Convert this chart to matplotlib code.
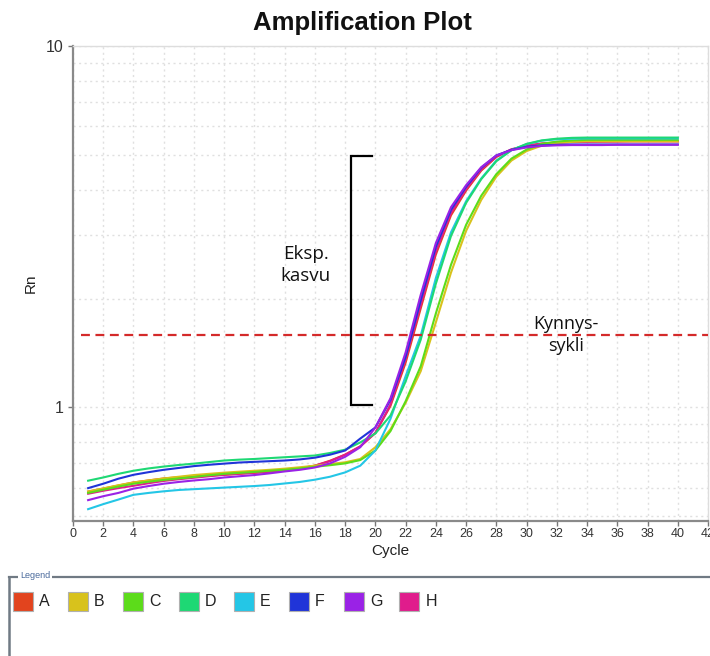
import matplotlib
matplotlib.use("Agg")
import matplotlib.pyplot as plt
from matplotlib.patches import Rectangle
from matplotlib.lines import Line2D
from matplotlib.ticker import FixedLocator, NullFormatter

plt.rcParams['font.family'] = ['Liberation Sans', 'DejaVu Sans']

cycles = list(range(1, 41))

series_names = ["A", "B", "C", "D", "E", "F", "G", "H"]
series_colors = ["#e2441e", "#d8c21c", "#5cdc1a", "#1ed874", "#24c6e6", "#2034d8", "#9a22e6", "#e01c8c"]

rn_A = [0.585, 0.596, 0.608, 0.620, 0.628, 0.636, 0.641, 0.645, 0.648, 0.651,
        0.655, 0.659, 0.664, 0.668, 0.677, 0.690, 0.712, 0.740, 0.780, 0.850,
        1.01, 1.33, 1.88, 2.65, 3.40, 3.98, 4.52, 4.93, 5.17, 5.30,
        5.37, 5.41, 5.43, 5.44, 5.44, 5.45, 5.45, 5.45, 5.45, 5.45]
rn_B = [0.585, 0.597, 0.609, 0.620, 0.628, 0.636, 0.643, 0.650, 0.655, 0.660,
        0.664, 0.668, 0.672, 0.677, 0.683, 0.690, 0.697, 0.705, 0.720, 0.776,
        0.870, 1.03, 1.26, 1.72, 2.36, 3.08, 3.75, 4.35, 4.82, 5.12,
        5.30, 5.39, 5.43, 5.45, 5.45, 5.45, 5.45, 5.45, 5.45, 5.45]
rn_C = [0.580, 0.592, 0.604, 0.615, 0.623, 0.630, 0.636, 0.642, 0.649, 0.655,
        0.659, 0.663, 0.668, 0.672, 0.678, 0.685, 0.692, 0.700, 0.715, 0.760,
        0.860, 1.04, 1.30, 1.82, 2.48, 3.20, 3.85, 4.42, 4.88, 5.17,
        5.36, 5.44, 5.48, 5.50, 5.50, 5.50, 5.50, 5.50, 5.50, 5.50]
rn_D = [0.627, 0.640, 0.655, 0.668, 0.678, 0.686, 0.693, 0.699, 0.706, 0.713,
        0.717, 0.720, 0.724, 0.728, 0.732, 0.736, 0.748, 0.764, 0.800, 0.847,
        0.950, 1.18, 1.54, 2.20, 2.98, 3.68, 4.28, 4.80, 5.15, 5.36,
        5.48, 5.54, 5.57, 5.58, 5.58, 5.58, 5.58, 5.58, 5.58, 5.58]
rn_E = [0.523, 0.540, 0.556, 0.573, 0.580, 0.586, 0.591, 0.594, 0.597, 0.600,
        0.603, 0.606, 0.610, 0.616, 0.622, 0.631, 0.643, 0.661, 0.690, 0.760,
        0.930, 1.22, 1.58, 2.28, 3.05, 3.72, 4.30, 4.82, 5.15, 5.35,
        5.47, 5.52, 5.54, 5.55, 5.55, 5.55, 5.55, 5.55, 5.55, 5.55]
rn_F = [0.598, 0.615, 0.635, 0.651, 0.662, 0.672, 0.680, 0.688, 0.694, 0.699,
        0.704, 0.707, 0.710, 0.713, 0.718, 0.726, 0.740, 0.760, 0.820, 0.880,
        1.05, 1.38, 1.98, 2.78, 3.52, 4.08, 4.60, 4.98, 5.16, 5.26,
        5.31, 5.33, 5.34, 5.34, 5.34, 5.34, 5.34, 5.34, 5.34, 5.34]
rn_G = [0.554, 0.568, 0.580, 0.596, 0.606, 0.615, 0.622, 0.628, 0.633, 0.640,
        0.645, 0.650, 0.657, 0.665, 0.672, 0.682, 0.700, 0.730, 0.776, 0.880,
        1.06, 1.42, 2.05, 2.85, 3.58, 4.12, 4.62, 4.98, 5.15, 5.24,
        5.29, 5.31, 5.32, 5.32, 5.32, 5.33, 5.33, 5.33, 5.33, 5.33]
rn_H = [0.577, 0.588, 0.598, 0.607, 0.617, 0.626, 0.633, 0.639, 0.645, 0.651,
        0.656, 0.660, 0.664, 0.668, 0.678, 0.690, 0.710, 0.740, 0.780, 0.850,
        1.02, 1.36, 1.92, 2.70, 3.45, 4.02, 4.55, 4.95, 5.18, 5.30,
        5.37, 5.40, 5.42, 5.43, 5.44, 5.44, 5.45, 5.45, 5.45, 5.45]

threshold = 1.585
x_ticks = list(range(0, 43, 2))
y_ticks = [1, 10]
y_tick_labels = ["1", "10"]

title_text = "Amplification Plot"
x_label = "Cycle"
y_label = "Rn"
bracket_text = "Eksp.\nkasvu"
threshold_text = "Kynnys-\nsykli"

W, H = 710, 656
fig = plt.figure(figsize=(W / 100, H / 100), dpi=100)
ax = fig.add_axes([73 / W, 1 - 521 / H, (708 - 73) / W, (521 - 46) / H])

ax.set_yscale("log")
ax.set_xlim(0, 42)
ax.set_ylim(0.485, 10)

# grid
ax.xaxis.set_major_locator(FixedLocator(x_ticks))
ax.yaxis.set_major_locator(FixedLocator(y_ticks))
ax.yaxis.set_minor_locator(FixedLocator([0.5, 0.6, 0.7, 0.8, 0.9, 2, 3, 4, 5, 6, 7, 8, 9]))
ax.yaxis.set_minor_formatter(NullFormatter())
ax.set_yticklabels(y_tick_labels)
ax.grid(True, which="both", color="#e0e0e0", linestyle=(0, (1.5, 2.5)), linewidth=1.0)
ax.tick_params(axis="y", which="minor", length=0)
ax.tick_params(axis="both", which="major", length=3.5, width=1, color="#777777",
               labelcolor="#333333", labelsize=9)
ax.tick_params(axis="x", pad=1.5)
ax.tick_params(axis="y", labelsize=11.5, pad=3)
ax.set_axisbelow(True)

for side in ["left", "bottom"]:
    ax.spines[side].set_color("#8a8a8a")
    ax.spines[side].set_linewidth(1.6)
for side in ["top", "right"]:
    ax.spines[side].set_color("#dddddd")
    ax.spines[side].set_linewidth(1.0)

all_series = [rn_A, rn_B, rn_C, rn_D, rn_E, rn_F, rn_G, rn_H]
draw_order = [0, 7, 1, 2, 4, 3, 5, 6]
for i in draw_order:
    ax.plot(cycles, all_series[i], color=series_colors[i], linewidth=1.5, zorder=3)

# threshold line
ax.plot([0.5, 42], [threshold, threshold], color="#d42a2a", linestyle=(0, (4, 2.5)),
        linewidth=1.6, zorder=4)

# bracket
bx0, bx1 = 18.4, 19.8
by0, by1 = 1.013, 4.95
ax.plot([bx1, bx0, bx0, bx1], [by1, by1, by0, by0], color="black", linewidth=1.6,
        zorder=5, solid_joinstyle="miter")

ax.text(15.4, 2.48, bracket_text, ha="center", va="center", fontsize=13.5,
        family=["Open Sans", "DejaVu Sans"], color="#111111", linespacing=1.3)
ax.text(32.6, threshold, threshold_text, ha="center", va="center", fontsize=13,
        family=["Open Sans", "DejaVu Sans"], color="#111111", linespacing=1.3,
        zorder=6)

ax.set_xlabel(x_label, fontsize=11, color="#222222", labelpad=3)
ax.set_ylabel(y_label, fontsize=11, color="#222222", labelpad=6)
fig.text(362 / W, 1 - 23 / H, title_text, ha="center", va="center",
         fontsize=18.5, fontweight="bold", color="#111111")

# legend panel
fig.add_artist(Line2D([9 / W, 1.0], [1 - 577 / H, 1 - 577 / H], color="#707a84", linewidth=1.6))
fig.add_artist(Line2D([9 / W, 9 / W], [1 - 577 / H, 0], color="#707a84", linewidth=1.8))
fig.text(20 / W, 1 - 576 / H, "Legend", ha="left", va="center", fontsize=6.5,
         color="#4a6a9c", bbox=dict(facecolor="white", edgecolor="none", pad=1.5))
for k, (name, col) in enumerate(zip(series_names, series_colors)):
    x0 = 13 + k * 55.2
    fig.add_artist(Rectangle((x0 / W, 1 - 611 / H), 20 / W, 19 / H,
                             facecolor=col, edgecolor="#b0b0b0", linewidth=0.8,
                             transform=fig.transFigure))
    fig.text((x0 + 26) / W, 1 - 602 / H, name, ha="left", va="center",
             fontsize=11.5, color="#222222")

fig.savefig("out.png", dpi=100)
